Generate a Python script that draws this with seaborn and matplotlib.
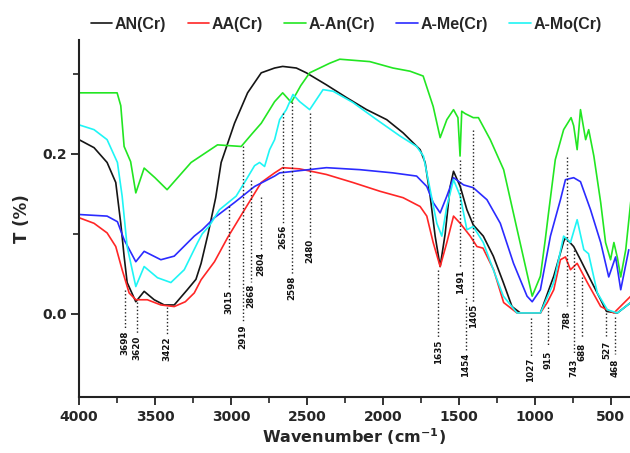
import numpy as np
import pandas as pd
import seaborn as sns
import matplotlib
matplotlib.use("Agg")
import matplotlib.pyplot as plt
from matplotlib.ticker import FixedLocator

# ---------------- data ----------------
wn_an = [4000, 3901, 3815, 3758, 3725, 3703, 3683, 3626, 3571, 3505, 3439, 3373, 3287, 3230, 3196,
         3150, 3100, 3064, 2976, 2890, 2800, 2712, 2659, 2569, 2503, 2371, 2238, 2106, 1974, 1866,
         1754, 1721, 1688, 1655, 1622, 1589, 1556, 1534, 1490, 1446, 1404, 1338, 1272, 1206, 1149,
         1094, 962, 874, 809, 797, 743, 698, 632, 565, 527, 455, 367]
t_an = [0.2175, 0.2075, 0.189, 0.164, 0.113, 0.072, 0.039, 0.015, 0.028, 0.0175, 0.011, 0.011, 0.03,
        0.043, 0.063, 0.10, 0.145, 0.189, 0.238, 0.276, 0.301, 0.307, 0.309, 0.307, 0.301, 0.286,
        0.27, 0.255, 0.2425, 0.226, 0.205, 0.189, 0.147, 0.097, 0.059, 0.10, 0.159, 0.178, 0.159,
        0.13, 0.111, 0.097, 0.072, 0.039, 0.009, 0.001, 0.001, 0.047, 0.09, 0.095, 0.084, 0.0675,
        0.0425, 0.0175, 0.003, 0.001, 0.014]

wn_aa = [4000, 3901, 3815, 3758, 3716, 3670, 3626, 3550, 3461, 3373, 3300, 3241, 3196, 3108, 3022,
         2910, 2800, 2712, 2659, 2547, 2371, 2197, 2018, 1866, 1754, 1710, 1668, 1622, 1578, 1534,
         1490, 1424, 1380, 1340, 1270, 1204, 1116, 962, 917, 874, 830, 797, 764, 720, 653, 565,
         478, 367]
t_aa = [0.12, 0.113, 0.101, 0.084, 0.055, 0.026, 0.0175, 0.0175, 0.011, 0.009, 0.015, 0.026,
        0.0425, 0.065, 0.095, 0.13, 0.164, 0.176, 0.1825, 0.181, 0.174, 0.164, 0.153, 0.145,
        0.134, 0.122, 0.089, 0.059, 0.089, 0.122, 0.113, 0.097, 0.084, 0.082, 0.055, 0.014,
        0.001, 0.001, 0.014, 0.03, 0.0675, 0.071, 0.055, 0.063, 0.039, 0.009, 0.001, 0.022]

wn_aan = [4000, 3749, 3725, 3703, 3660, 3626, 3571, 3500, 3420, 3262, 3088, 2932, 2860, 2800, 2712,
          2659, 2602, 2540, 2481, 2349, 2283, 2085, 1933, 1820, 1734, 1668, 1622, 1578, 1534, 1505,
          1491, 1480, 1457, 1404, 1370, 1292, 1204, 1115, 1016, 962, 930, 911, 864, 809, 760,
          743, 720, 698, 664, 644, 610, 565, 533, 500, 478, 455, 433, 400, 367]
t_aan = [0.276, 0.276, 0.26, 0.209, 0.19, 0.151, 0.182, 0.17, 0.155, 0.189, 0.211, 0.209, 0.225,
         0.238, 0.265, 0.276, 0.264, 0.285, 0.301, 0.313, 0.318, 0.315, 0.307, 0.303, 0.297,
         0.259, 0.22, 0.2425, 0.255, 0.245, 0.197, 0.253, 0.25, 0.245, 0.245, 0.2175, 0.18,
         0.105, 0.022, 0.047, 0.0925, 0.122, 0.1925, 0.23, 0.245, 0.235, 0.205, 0.255, 0.2175,
         0.23, 0.197, 0.139, 0.089, 0.0675, 0.089, 0.07, 0.046, 0.08, 0.14]

wn_ame = [4000, 3815, 3747, 3703, 3626, 3571, 3461, 3373, 3241, 3188, 3108, 2976, 2844, 2712, 2679,
          2371, 2150, 1933, 1777, 1710, 1668, 1622, 1578, 1534, 1468, 1404, 1314, 1226, 1139, 1050,
          1016, 962, 896, 830, 797, 743, 698, 632, 565, 512, 467, 433, 380]
t_ame = [0.124, 0.122, 0.115, 0.0925, 0.065, 0.078, 0.0675, 0.072, 0.097, 0.105, 0.12, 0.139,
         0.159, 0.172, 0.176, 0.1825, 0.18, 0.176, 0.172, 0.159, 0.139, 0.126, 0.147, 0.17,
         0.161, 0.1575, 0.1425, 0.113, 0.063, 0.022, 0.015, 0.03, 0.097, 0.1425, 0.1675, 0.17,
         0.165, 0.13, 0.089, 0.046, 0.071, 0.03, 0.08]

wn_amo = [4000, 3901, 3815, 3747, 3716, 3683, 3626, 3571, 3483, 3395, 3307, 3219, 3188, 3141, 3075,
          2965, 2899, 2844, 2811, 2778, 2745, 2712, 2679, 2635, 2591, 2547, 2481, 2393, 2327, 2197,
          2040, 1886, 1777, 1732, 1688, 1644, 1611, 1578, 1534, 1490, 1446, 1404, 1338, 1272, 1206,
          1116, 962, 874, 809, 764, 720, 676, 645, 587, 521, 455, 367]
t_amo = [0.236, 0.23, 0.2175, 0.189, 0.147, 0.084, 0.034, 0.059, 0.045, 0.039, 0.055, 0.089, 0.10,
         0.11, 0.13, 0.147, 0.1675, 0.185, 0.189, 0.184, 0.205, 0.2175, 0.2425, 0.255, 0.274,
         0.265, 0.255, 0.28, 0.278, 0.264, 0.2425, 0.222, 0.209, 0.197, 0.155, 0.113, 0.097,
         0.134, 0.1675, 0.147, 0.105, 0.109, 0.089, 0.055, 0.022, 0.001, 0.001, 0.039, 0.097,
         0.089, 0.1175, 0.08, 0.075, 0.026, 0.005, 0.001, 0.014]

series_names = ["AN(Cr)", "AA(Cr)", "A-An(Cr)", "A-Me(Cr)", "A-Mo(Cr)"]
series_colors = ["#151515", "#ff2626", "#22e622", "#2b2bff", "#1ff5f5"]

peak_wn = [3698, 3620, 3422, 3015, 2919, 2868, 2804, 2656, 2598, 2480,
           1635, 1491, 1454, 1405, 1027, 915, 788, 743, 688, 527, 468]
peak_top = [0.03, 0.015, 0.009, 0.134, 0.209, 0.1675, 0.146, 0.251, 0.264, 0.251,
            0.055, 0.1925, 0.02, 0.23, -0.005, 0.009, 0.196, 0.08, 0.046, 0.001, -0.004]
label_y = [-0.036, -0.0425, -0.044, 0.015, -0.029, 0.0225, 0.0625, 0.096, 0.0325, 0.079,
           -0.0475, 0.04, -0.064, -0.0025, -0.07, -0.0575, -0.0075, -0.0675, -0.0475, -0.045, -0.0675]

x_ticks = [4000, 3500, 3000, 2500, 2000, 1500, 1000, 500]
y_ticks = [0.0, 0.2]
y_minor = [0.1, 0.3]

# ---------------- build frame ----------------
frames = []
for name, w, t in zip(series_names,
                      [wn_an, wn_aa, wn_aan, wn_ame, wn_amo],
                      [t_an, t_aa, t_aan, t_ame, t_amo]):
    frames.append(pd.DataFrame({"wn": w, "T": t, "sample": name}))
df = pd.concat(frames, ignore_index=True)

sns.set_theme(style="white")
plt.rcParams["font.family"] = ["DejaVu Sans"]

fig = plt.figure(figsize=(6.3, 4.53), dpi=100)
ax = fig.add_axes([0.1254, 0.1236, 0.8746, 0.7881])

palette = dict(zip(series_names, series_colors))
sns.lineplot(data=df, x="wn", y="T", hue="sample", hue_order=series_names, palette=palette,
             sort=False, estimator=None, linewidth=1.2, legend=False, ax=ax)

# peak annotations
for w, top, ly in zip(peak_wn, peak_top, label_y):
    ax.plot([w, w], [top, ly + 0.017], color="#222222", linestyle=(0, (1, 1.6)), linewidth=1.0)
    ax.text(w, ly, str(w), rotation=90, ha="center", va="center", fontsize=6.3,
            fontweight="bold", color="#111111")

ax.set_xlim(4000, 372)
ax.set_ylim(-0.104, 0.342)

ax.set_xticks(x_ticks)
ax.set_xticklabels([str(v) for v in x_ticks])
ax.xaxis.set_minor_locator(FixedLocator([3750, 3250, 2750, 2250, 1750, 1250, 750]))
ax.set_yticks(y_ticks)
ax.set_yticklabels(["0.0", "0.2"])
ax.yaxis.set_minor_locator(FixedLocator(y_minor))

ax.tick_params(axis="both", which="major", direction="out", length=6, width=1.3,
               labelsize=10, color="#222222", bottom=True, left=True, pad=3)
ax.tick_params(axis="both", which="minor", direction="out", length=4, width=1.2,
               color="#222222", bottom=True, left=True)
for lab in ax.get_xticklabels() + ax.get_yticklabels():
    lab.set_fontweight("bold")

for s in ["top", "right"]:
    ax.spines[s].set_visible(False)
for s in ["left", "bottom"]:
    ax.spines[s].set_color("#222222")
    ax.spines[s].set_linewidth(1.5)

ax.set_xlabel("Wavenumber (cm$^{\\mathbf{-1}}$)", fontsize=11.5, fontweight="bold", labelpad=2)
ax.set_ylabel("T (%)", fontsize=12, fontweight="bold", labelpad=8)

handles = ax.get_lines()[:5]
leg = ax.legend(handles, series_names, loc="center", bbox_to_anchor=(346 / 630, 1 - 24 / 453),
                bbox_transform=fig.transFigure, ncol=5, frameon=False, handlelength=1.35,
                handletextpad=0.15, columnspacing=1.35,
                prop={"family": "Liberation Sans", "weight": "bold", "size": 11.5})

fig.savefig("out.png", dpi=100)
